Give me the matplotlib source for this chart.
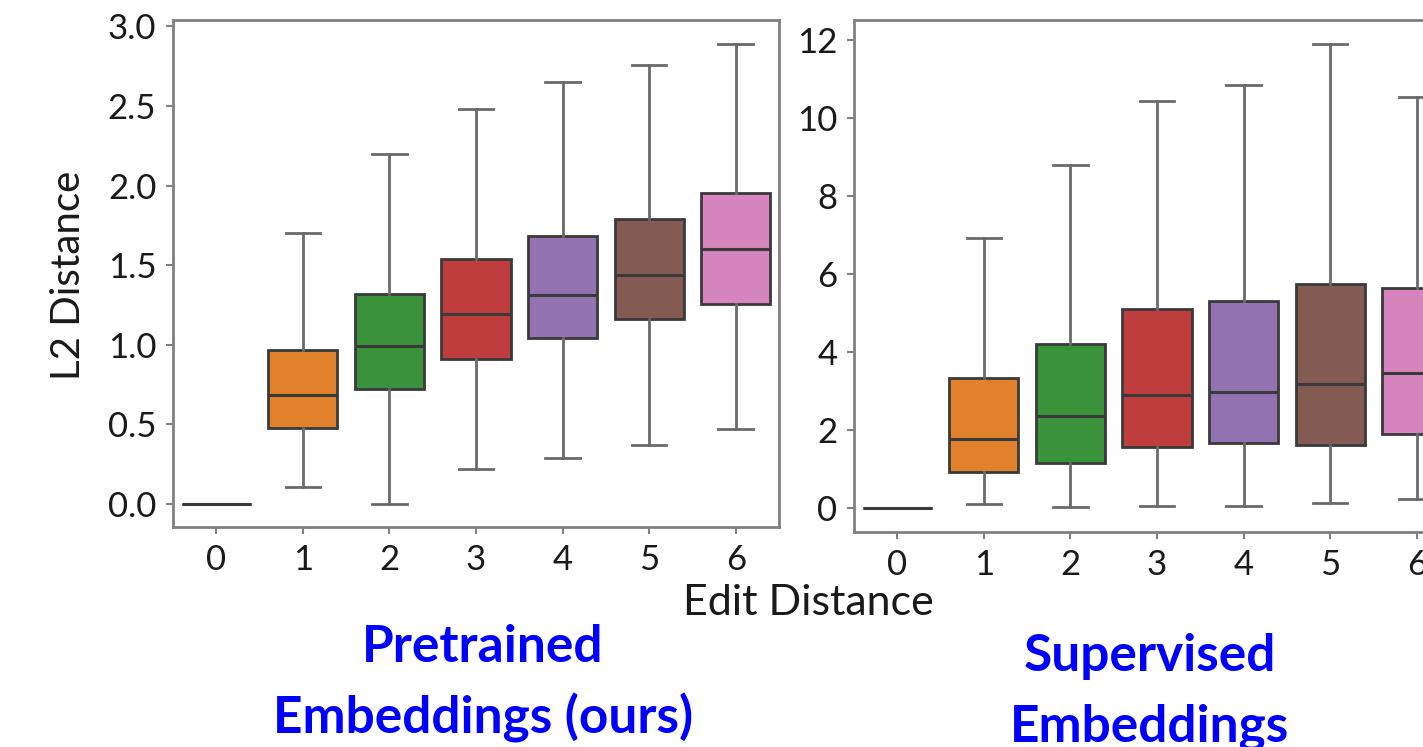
import matplotlib.pyplot as plt

plt.rcParams['font.family'] = ['Lato', 'DejaVu Sans']

# edit distance categories
edit_dist = [0, 1, 2, 3, 4, 5, 6]

# pretrained embeddings (ours): whisker low, Q1, median, Q3, whisker high
pre_lo = [0.0, 0.107, 0.0, 0.217, 0.29, 0.37, 0.47]
pre_q1 = [0.0, 0.478, 0.72, 0.91, 1.04, 1.16, 1.255]
pre_med = [0.0, 0.685, 0.99, 1.195, 1.31, 1.44, 1.60]
pre_q3 = [0.0, 0.97, 1.32, 1.54, 1.68, 1.79, 1.956]
pre_hi = [0.0, 1.70, 2.20, 2.48, 2.65, 2.755, 2.89]

# supervised embeddings
sup_lo = [0.0, 0.10, 0.02, 0.05, 0.05, 0.12, 0.22]
sup_q1 = [0.0, 0.93, 1.15, 1.56, 1.66, 1.62, 1.89]
sup_med = [0.0, 1.77, 2.35, 2.89, 2.97, 3.19, 3.46]
sup_q3 = [0.0, 3.33, 4.21, 5.11, 5.32, 5.74, 5.64]
sup_hi = [0.0, 6.92, 8.79, 10.43, 10.85, 11.90, 10.55]

pre_yticks = [0.0, 0.5, 1.0, 1.5, 2.0, 2.5, 3.0]
sup_yticks = [0, 2, 4, 6, 8, 10, 12]

colors = ['#3274A1', '#E1812C', '#3A923A', '#C03D3E', '#9372B2', '#845B53', '#D684BD']
spine_col = '#808080'


def draw_boxes(ax, lo, q1, med, q3, hi):
    stats = []
    for i in range(len(edit_dist)):
        stats.append({'whislo': lo[i], 'q1': q1[i], 'med': med[i],
                      'q3': q3[i], 'whishi': hi[i], 'fliers': []})
    parts = ax.bxp(stats, positions=edit_dist, widths=0.8, capwidths=0.4,
                   patch_artist=True, showfliers=False,
                   boxprops=dict(edgecolor='#3a3a3a', linewidth=2),
                   medianprops=dict(color='#3a3a3a', linewidth=2.2),
                   whiskerprops=dict(color='#6a6a6a', linewidth=2),
                   capprops=dict(color='#6a6a6a', linewidth=2))
    for patch, c in zip(parts['boxes'], colors):
        patch.set_facecolor(c)
    ax.set_xlim(-0.5, 6.5)
    ax.set_xticks(edit_dist)
    ax.set_xticklabels([str(e) for e in edit_dist])
    for s in ax.spines.values():
        s.set_color(spine_col)
        s.set_linewidth(2)
    ax.tick_params(axis='both', colors=spine_col, labelcolor='#1a1a1a',
                   labelsize=25, length=5, width=1.5, pad=7)


fig = plt.figure(figsize=(14.23, 7.47), dpi=100)

ax1 = fig.add_axes([173 / 1423, 220 / 747, 606 / 1423, 507 / 747])
draw_boxes(ax1, pre_lo, pre_q1, pre_med, pre_q3, pre_hi)
ax1.set_ylim(-0.145, 3.04)
ax1.set_yticks(pre_yticks)
ax1.set_yticklabels([f'{t:.1f}' for t in pre_yticks])

ax2 = fig.add_axes([854 / 1423, 215 / 747, 606 / 1423, 512 / 747])
draw_boxes(ax2, sup_lo, sup_q1, sup_med, sup_q3, sup_hi)
ax2.set_ylim(-0.62, 12.52)
ax2.set_yticks(sup_yticks)
ax2.set_yticklabels([str(t) for t in sup_yticks])

fig.text(68 / 1423, 1 - 275 / 747, 'L2 Distance', rotation=90, fontsize=29,
         ha='center', va='center', color='#1a1a1a')
fig.text(808 / 1423, 1 - 603 / 747, 'Edit Distance', fontsize=31,
         ha='center', va='center', color='#1a1a1a')

blue = '#0000FF'
fig.text(483 / 1423, 1 - 648 / 747, 'Pretrained', fontsize=37, fontweight='bold',
         ha='center', va='center', color=blue)
fig.text(483 / 1423, 1 - 718 / 747, 'Embeddings (ours)', fontsize=37, fontweight='bold',
         ha='center', va='center', color=blue)
fig.text(1150 / 1423, 1 - 657 / 747, 'Supervised', fontsize=37, fontweight='bold',
         ha='center', va='center', color=blue)
fig.text(1150 / 1423, 1 - 727 / 747, 'Embeddings', fontsize=37, fontweight='bold',
         ha='center', va='center', color=blue)

fig.savefig('out.png', dpi=100)
